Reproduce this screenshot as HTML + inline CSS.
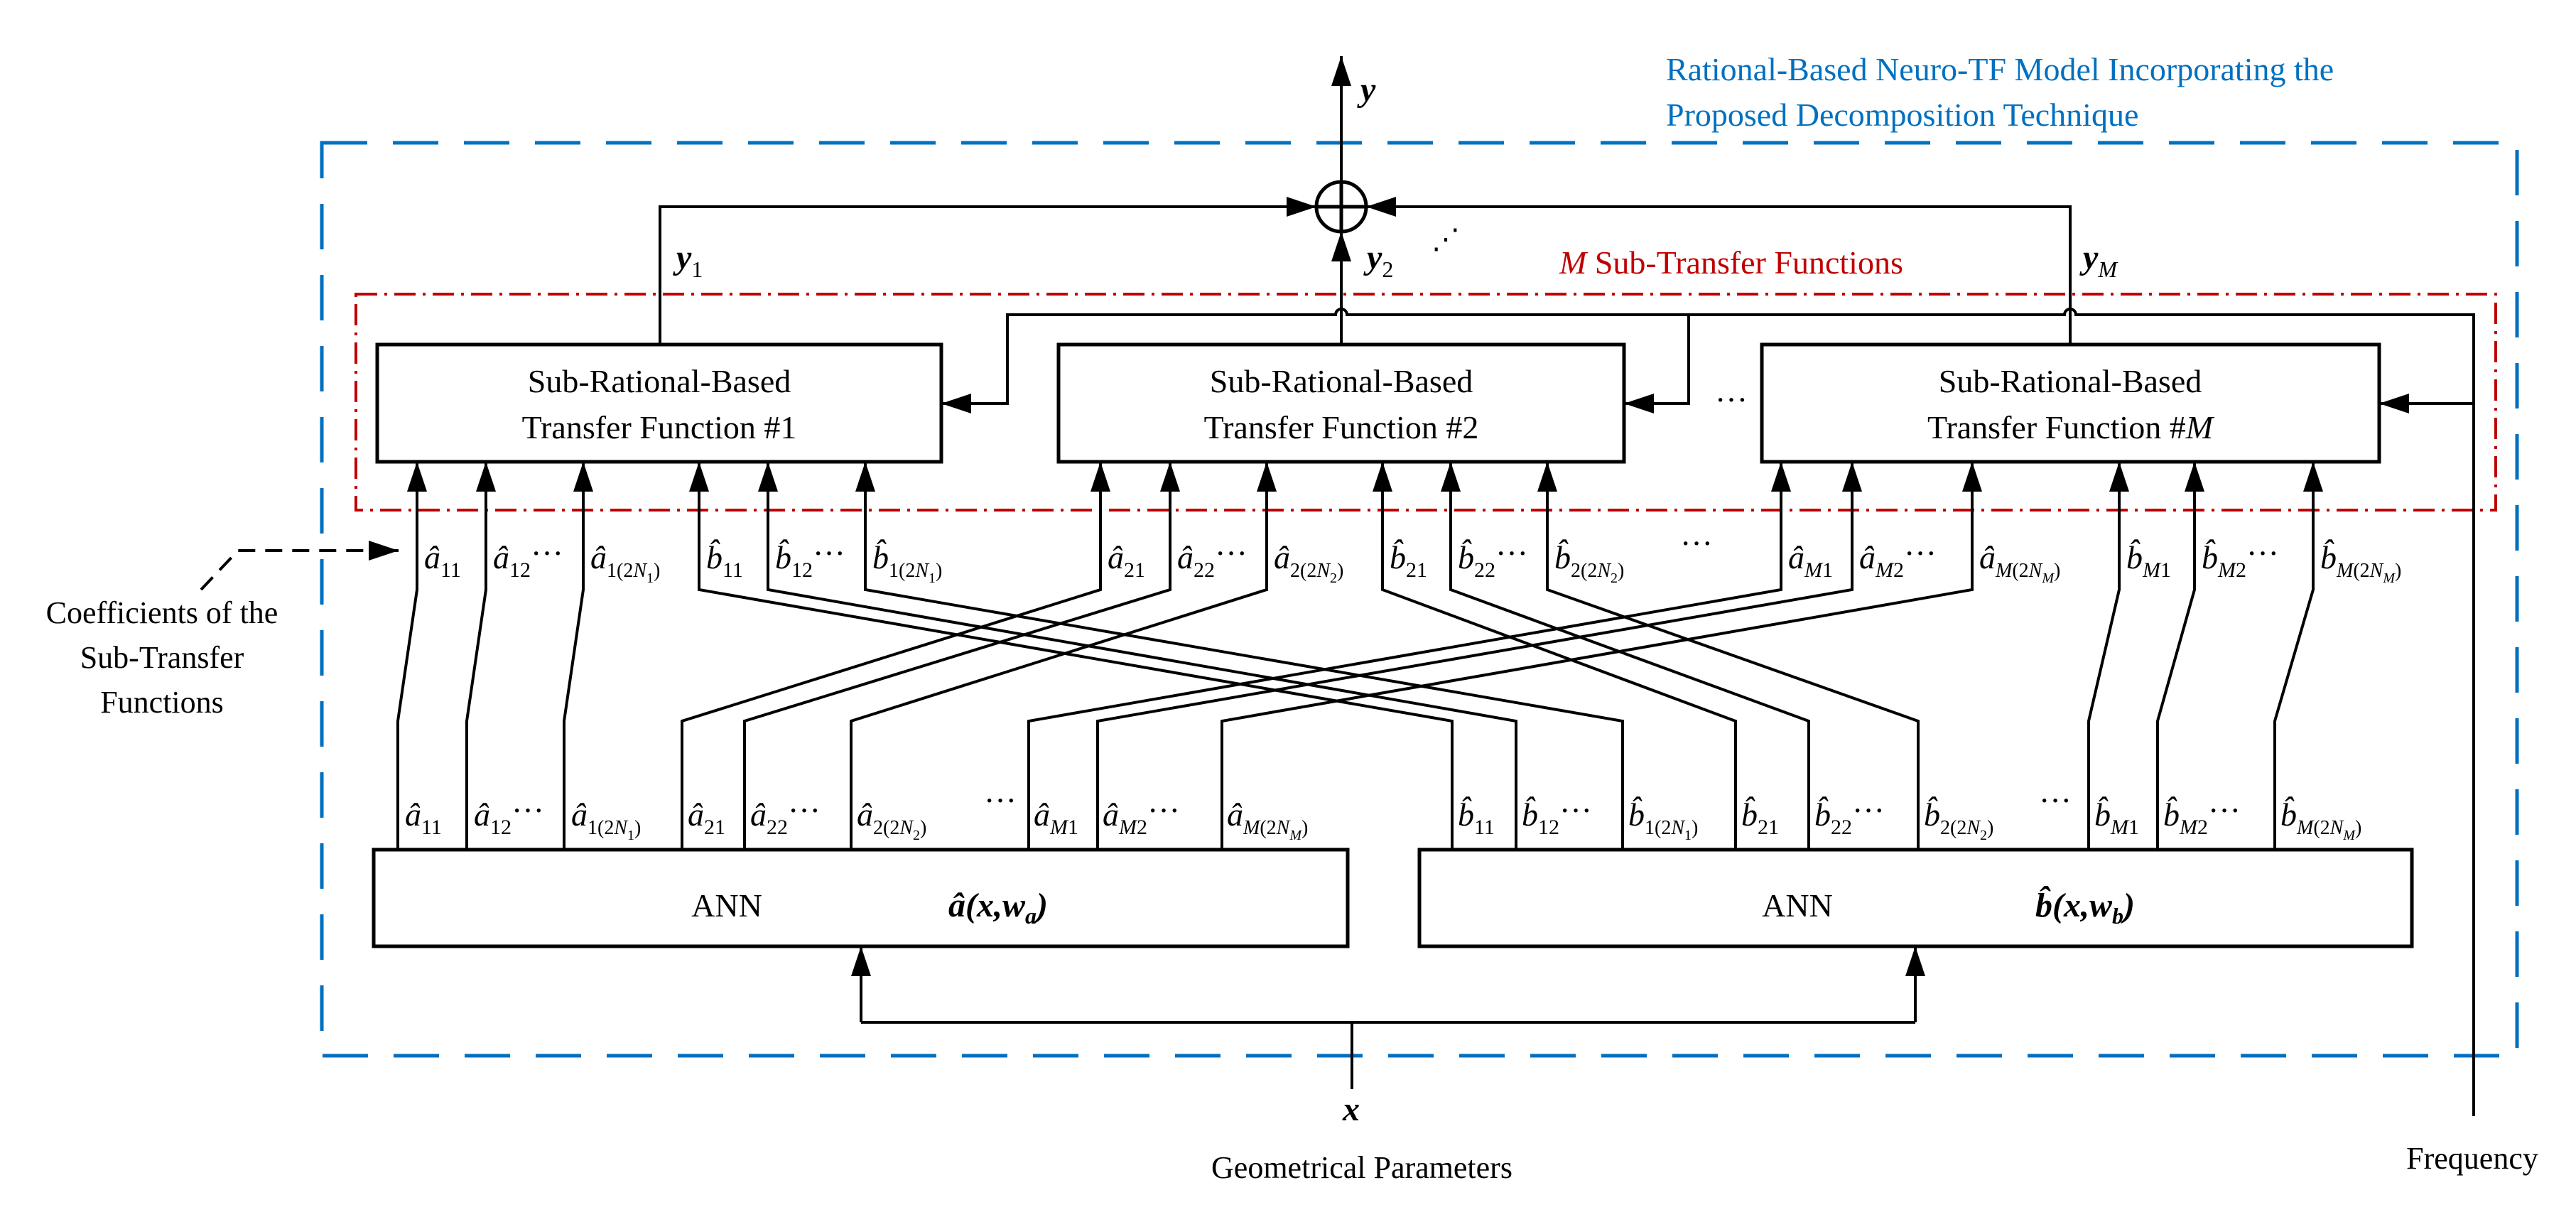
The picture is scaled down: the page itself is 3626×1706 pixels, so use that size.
<!DOCTYPE html>
<html><head><meta charset="utf-8"><style>
html,body{margin:0;padding:0;background:#fff}
svg{display:block}
svg text{font-family:"Liberation Serif",serif}
</style></head><body>
<svg width="3626" height="1706" viewBox="0 0 3626 1706" xmlns="http://www.w3.org/2000/svg" font-family="'Liberation Serif', serif">
<defs>
<marker id="ar" markerUnits="userSpaceOnUse" markerWidth="44" markerHeight="30" refX="42" refY="15" orient="auto"><path d="M0,1 L42,15 L0,29 z" fill="#000"/></marker>
</defs>
<rect x="453" y="201" width="3090" height="1285" fill="none" stroke="#0070C0" stroke-width="5" stroke-dasharray="64,36"/>
<g font-family="'Liberation Serif', serif" font-size="46" fill="#0070C0">
<text x="2345" y="113">Rational-Based Neuro-TF Model Incorporating the</text>
<text x="2345" y="177">Proposed Decomposition Technique</text>
</g>
<rect x="501" y="414" width="3012" height="304" fill="none" stroke="#C00000" stroke-width="4" stroke-dasharray="30,10,4,10"/>
<text x="2195" y="385" font-size="46" fill="#C00000" font-family="'Liberation Serif', serif"><tspan font-style="italic">M</tspan> Sub-Transfer Functions</text>
<g fill="#fff" stroke="#000" stroke-width="5">
<rect x="531" y="485" width="794" height="165"/>
<rect x="1490" y="485" width="796" height="165"/>
<rect x="2480" y="485" width="869" height="165"/>
<rect x="526" y="1196" width="1371" height="136"/>
<rect x="1998" y="1196" width="1397" height="136"/>
</g>
<g font-size="46" text-anchor="middle" font-family="'Liberation Serif', serif">
<text x="928" y="552">Sub-Rational-Based</text><text x="928" y="617">Transfer Function #1</text>
<text x="1888" y="552">Sub-Rational-Based</text><text x="1888" y="617">Transfer Function #2</text>
<text x="2914" y="552">Sub-Rational-Based</text><text x="2914" y="617">Transfer Function #<tspan font-style="italic">M</tspan></text>
<text x="1023" y="1290">ANN</text>
<text x="2530" y="1290">ANN</text>
</g>
<text x="1335" y="1290" font-size="48" font-weight="bold" font-style="italic" font-family="'Liberation Serif', serif">â(x,w<tspan font-size="32" dy="10">a</tspan><tspan dy="-10">)</tspan></text>
<text x="2865" y="1290" font-size="48" font-weight="bold" font-style="italic" font-family="'Liberation Serif', serif">b̂(x,w<tspan font-size="32" dy="10">b</tspan><tspan dy="-10">)</tspan></text>
<text x="2437" y="565" font-size="46" text-anchor="middle" font-family="'Liberation Serif', serif">…</text>
<circle cx="1888" cy="291" r="35" fill="#fff" stroke="#000" stroke-width="5"/>
<path d="M1853,291H1923M1888,256V326" stroke="#000" stroke-width="5"/>
<g fill="none" stroke="#000" stroke-width="4">
<path d="M1888,256V79" marker-end="url(#ar)"/>
<path d="M929,485V291H1853" marker-end="url(#ar)"/>
<path d="M2914,485V291H1923" marker-end="url(#ar)"/>
<path d="M1888,485V326" marker-end="url(#ar)"/>
<path d="M3482,1571V443H2922a8,8 0 0 0 -16,0H1896a8,8 0 0 0 -16,0H1418V568H1325" marker-end="url(#ar)"/>
<path d="M2377,443V568H2286" marker-end="url(#ar)"/>
<path d="M3482,568H3349" marker-end="url(#ar)"/>
<path d="M1903,1533V1439M1212,1439H2696"/>
<path d="M1212,1439V1332" marker-end="url(#ar)"/>
<path d="M2696,1439V1332" marker-end="url(#ar)"/>
<path d="M560,1196V1015L587,830V650" marker-end="url(#ar)"/>
<path d="M657,1196V1015L684,830V650" marker-end="url(#ar)"/>
<path d="M794,1196V1015L821,830V650" marker-end="url(#ar)"/>
<path d="M2044,1196V1015L984,830V650" marker-end="url(#ar)"/>
<path d="M2134,1196V1015L1081,830V650" marker-end="url(#ar)"/>
<path d="M2284,1196V1015L1218,830V650" marker-end="url(#ar)"/>
<path d="M960,1196V1015L1549,830V650" marker-end="url(#ar)"/>
<path d="M1048,1196V1015L1647,830V650" marker-end="url(#ar)"/>
<path d="M1198,1196V1015L1783,830V650" marker-end="url(#ar)"/>
<path d="M2443,1196V1015L1946,830V650" marker-end="url(#ar)"/>
<path d="M2546,1196V1015L2042,830V650" marker-end="url(#ar)"/>
<path d="M2700,1196V1015L2178,830V650" marker-end="url(#ar)"/>
<path d="M1448,1196V1015L2507,830V650" marker-end="url(#ar)"/>
<path d="M1545,1196V1015L2607,830V650" marker-end="url(#ar)"/>
<path d="M1720,1196V1015L2776,830V650" marker-end="url(#ar)"/>
<path d="M2940,1196V1015L2983,830V650" marker-end="url(#ar)"/>
<path d="M3037,1196V1015L3089,830V650" marker-end="url(#ar)"/>
<path d="M3202,1196V1015L3256,830V650" marker-end="url(#ar)"/>
<path d="M283,830L335,775H520" stroke-dasharray="24,14"/>
<path d="M520,775H561" marker-end="url(#ar)"/>
</g>
<g font-size="48" font-weight="bold" font-style="italic" font-family="'Liberation Serif', serif">
<text x="1915" y="142">y</text>
<text x="952" y="378">y<tspan font-size="32" font-weight="normal" font-style="normal" dy="12">1</tspan></text>
<text x="1924" y="378">y<tspan font-size="32" font-weight="normal" font-style="normal" dy="12">2</tspan></text>
<text x="2932" y="378">y<tspan font-size="32" font-weight="normal" dy="12">M</tspan></text>
<text x="1890" y="1577">x</text>
</g>
<text x="2015" y="350" font-size="40" font-family="'Liberation Serif', serif">⋰</text>
<g font-size="46" font-style="italic" font-family="'Liberation Serif', serif">
<text x="597" y="800">â<tspan font-size="30" font-style="normal" dy="12">11</tspan></text>
<text x="694" y="800">â<tspan font-size="30" font-style="normal" dy="12">12</tspan><tspan font-style="normal" dy="-18">···</tspan></text>
<text x="831" y="800">â<tspan font-size="28" font-style="normal" dy="12">1(2</tspan><tspan font-size="28">N</tspan><tspan font-size="20" font-style="normal" dy="8">1</tspan><tspan font-size="28" font-style="normal" dy="-8">)</tspan></text>
<text x="994" y="800">b̂<tspan font-size="30" font-style="normal" dy="12">11</tspan></text>
<text x="1091" y="800">b̂<tspan font-size="30" font-style="normal" dy="12">12</tspan><tspan font-style="normal" dy="-18">···</tspan></text>
<text x="1228" y="800">b̂<tspan font-size="28" font-style="normal" dy="12">1(2</tspan><tspan font-size="28">N</tspan><tspan font-size="20" font-style="normal" dy="8">1</tspan><tspan font-size="28" font-style="normal" dy="-8">)</tspan></text>
<text x="1559" y="800">â<tspan font-size="30" font-style="normal" dy="12">21</tspan></text>
<text x="1657" y="800">â<tspan font-size="30" font-style="normal" dy="12">22</tspan><tspan font-style="normal" dy="-18">···</tspan></text>
<text x="1793" y="800">â<tspan font-size="28" font-style="normal" dy="12">2(2</tspan><tspan font-size="28">N</tspan><tspan font-size="20" font-style="normal" dy="8">2</tspan><tspan font-size="28" font-style="normal" dy="-8">)</tspan></text>
<text x="1956" y="800">b̂<tspan font-size="30" font-style="normal" dy="12">21</tspan></text>
<text x="2052" y="800">b̂<tspan font-size="30" font-style="normal" dy="12">22</tspan><tspan font-style="normal" dy="-18">···</tspan></text>
<text x="2188" y="800">b̂<tspan font-size="28" font-style="normal" dy="12">2(2</tspan><tspan font-size="28">N</tspan><tspan font-size="20" font-style="normal" dy="8">2</tspan><tspan font-size="28" font-style="normal" dy="-8">)</tspan></text>
<text x="2365" y="780" font-style="normal">···</text>
<text x="2517" y="800">â<tspan font-size="30" dy="12">M</tspan><tspan font-size="30" font-style="normal">1</tspan></text>
<text x="2617" y="800">â<tspan font-size="30" dy="12">M</tspan><tspan font-size="30" font-style="normal">2</tspan><tspan font-style="normal" dy="-18">···</tspan></text>
<text x="2786" y="800">â<tspan font-size="28" dy="12">M</tspan><tspan font-size="28" font-style="normal">(2</tspan><tspan font-size="28">N</tspan><tspan font-size="20" dy="8">M</tspan><tspan font-size="28" font-style="normal" dy="-8">)</tspan></text>
<text x="2993" y="800">b̂<tspan font-size="30" dy="12">M</tspan><tspan font-size="30" font-style="normal">1</tspan></text>
<text x="3099" y="800">b̂<tspan font-size="30" dy="12">M</tspan><tspan font-size="30" font-style="normal">2</tspan><tspan font-style="normal" dy="-18">···</tspan></text>
<text x="3266" y="800">b̂<tspan font-size="28" dy="12">M</tspan><tspan font-size="28" font-style="normal">(2</tspan><tspan font-size="28">N</tspan><tspan font-size="20" dy="8">M</tspan><tspan font-size="28" font-style="normal" dy="-8">)</tspan></text>
</g>
<g font-size="46" font-style="italic" font-family="'Liberation Serif', serif">
<text x="570" y="1162">â<tspan font-size="30" font-style="normal" dy="12">11</tspan></text>
<text x="667" y="1162">â<tspan font-size="30" font-style="normal" dy="12">12</tspan><tspan font-style="normal" dy="-18">···</tspan></text>
<text x="804" y="1162">â<tspan font-size="28" font-style="normal" dy="12">1(2</tspan><tspan font-size="28">N</tspan><tspan font-size="20" font-style="normal" dy="8">1</tspan><tspan font-size="28" font-style="normal" dy="-8">)</tspan></text>
<text x="968" y="1162">â<tspan font-size="30" font-style="normal" dy="12">21</tspan></text>
<text x="1056" y="1162">â<tspan font-size="30" font-style="normal" dy="12">22</tspan><tspan font-style="normal" dy="-18">···</tspan></text>
<text x="1206" y="1162">â<tspan font-size="28" font-style="normal" dy="12">2(2</tspan><tspan font-size="28">N</tspan><tspan font-size="20" font-style="normal" dy="8">2</tspan><tspan font-size="28" font-style="normal" dy="-8">)</tspan></text>
<text x="1385" y="1142" font-style="normal">···</text>
<text x="1455" y="1162">â<tspan font-size="30" dy="12">M</tspan><tspan font-size="30" font-style="normal">1</tspan></text>
<text x="1552" y="1162">â<tspan font-size="30" dy="12">M</tspan><tspan font-size="30" font-style="normal">2</tspan><tspan font-style="normal" dy="-18">···</tspan></text>
<text x="1727" y="1162">â<tspan font-size="28" dy="12">M</tspan><tspan font-size="28" font-style="normal">(2</tspan><tspan font-size="28">N</tspan><tspan font-size="20" dy="8">M</tspan><tspan font-size="28" font-style="normal" dy="-8">)</tspan></text>
<text x="2052" y="1162">b̂<tspan font-size="30" font-style="normal" dy="12">11</tspan></text>
<text x="2142" y="1162">b̂<tspan font-size="30" font-style="normal" dy="12">12</tspan><tspan font-style="normal" dy="-18">···</tspan></text>
<text x="2292" y="1162">b̂<tspan font-size="28" font-style="normal" dy="12">1(2</tspan><tspan font-size="28">N</tspan><tspan font-size="20" font-style="normal" dy="8">1</tspan><tspan font-size="28" font-style="normal" dy="-8">)</tspan></text>
<text x="2451" y="1162">b̂<tspan font-size="30" font-style="normal" dy="12">21</tspan></text>
<text x="2554" y="1162">b̂<tspan font-size="30" font-style="normal" dy="12">22</tspan><tspan font-style="normal" dy="-18">···</tspan></text>
<text x="2708" y="1162">b̂<tspan font-size="28" font-style="normal" dy="12">2(2</tspan><tspan font-size="28">N</tspan><tspan font-size="20" font-style="normal" dy="8">2</tspan><tspan font-size="28" font-style="normal" dy="-8">)</tspan></text>
<text x="2870" y="1142" font-style="normal">···</text>
<text x="2948" y="1162">b̂<tspan font-size="30" dy="12">M</tspan><tspan font-size="30" font-style="normal">1</tspan></text>
<text x="3045" y="1162">b̂<tspan font-size="30" dy="12">M</tspan><tspan font-size="30" font-style="normal">2</tspan><tspan font-style="normal" dy="-18">···</tspan></text>
<text x="3210" y="1162">b̂<tspan font-size="28" dy="12">M</tspan><tspan font-size="28" font-style="normal">(2</tspan><tspan font-size="28">N</tspan><tspan font-size="20" dy="8">M</tspan><tspan font-size="28" font-style="normal" dy="-8">)</tspan></text>
</g>
<g font-size="44" text-anchor="middle" font-family="'Liberation Serif', serif">
<text x="228" y="877">Coefficients of the</text>
<text x="228" y="940">Sub-Transfer</text>
<text x="228" y="1003">Functions</text>
<text x="1917" y="1658">Geometrical Parameters</text>
<text x="3480" y="1645">Frequency</text>
</g>
</svg>
</body></html>
